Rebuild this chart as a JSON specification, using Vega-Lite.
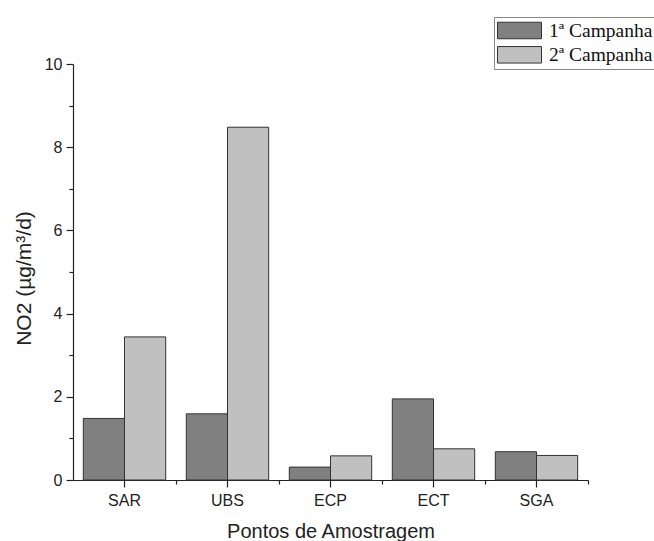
{
  "$schema": "https://vega.github.io/schema/vega-lite/v6.json",
  "autosize": "none",
  "width": 515,
  "height": 416,
  "padding": {"left": 73, "top": 64, "right": 66, "bottom": 61},
  "background": "white",
  "config": {
    "view": {"stroke": null},
    "font": "Liberation Sans",
    "axis": {
      "domainColor": "#222",
      "tickColor": "#222",
      "labelColor": "#222",
      "titleColor": "#222",
      "labelFont": "Liberation Sans",
      "titleFont": "Liberation Sans",
      "labelFontSize": 16,
      "titleFontSize": 20,
      "titleFontWeight": "normal",
      "grid": false,
      "tickWidth": 1.2,
      "domainWidth": 1.2
    }
  },
  "data": {
    "values": [
      {"Site": "SAR", "Campanha": "1ª Campanha", "NO2": 1.48},
      {"Site": "SAR", "Campanha": "2ª Campanha", "NO2": 3.44},
      {"Site": "UBS", "Campanha": "1ª Campanha", "NO2": 1.59},
      {"Site": "UBS", "Campanha": "2ª Campanha", "NO2": 8.48},
      {"Site": "ECP", "Campanha": "1ª Campanha", "NO2": 0.31},
      {"Site": "ECP", "Campanha": "2ª Campanha", "NO2": 0.58},
      {"Site": "ECT", "Campanha": "1ª Campanha", "NO2": 1.95},
      {"Site": "ECT", "Campanha": "2ª Campanha", "NO2": 0.75},
      {"Site": "SGA", "Campanha": "1ª Campanha", "NO2": 0.68},
      {"Site": "SGA", "Campanha": "2ª Campanha", "NO2": 0.59}
    ]
  },
  "layer": [
    {
      "mark": {"type": "bar", "stroke": "#333", "strokeWidth": 1},
      "encoding": {
        "x": {
          "field": "Site",
          "type": "nominal",
          "sort": ["SAR", "UBS", "ECP", "ECT", "SGA"],
          "scale": {"paddingInner": 0.2, "paddingOuter": 0.1},
          "axis": {
            "orient": "bottom",
            "title": "Pontos de Amostragem",
            "labelAngle": 0,
            "tickSize": 7,
            "labelPadding": 5,
            "titleBaseline": "alphabetic",
            "titleY": 57
          }
        },
        "xOffset": {
          "field": "Campanha",
          "type": "nominal",
          "scale": {"paddingInner": 0, "paddingOuter": 0}
        },
        "y": {
          "field": "NO2",
          "type": "quantitative",
          "scale": {"domain": [0, 10], "nice": false},
          "axis": {
            "title": "NO2 (µg/m³/d)",
            "titleFontSize": 21,
            "values": [0, 1, 2, 3, 4, 5, 6, 7, 8, 9, 10],
            "labelExpr": "datum.value % 2 === 0 ? datum.label : ''",
            "tickSize": {"condition": {"test": "datum.value % 2 === 0", "value": 7}, "value": 4},
            "labelPadding": 4,
            "titleAngle": 270,
            "titleAlign": "center",
            "titleBaseline": "middle",
            "titleX": -49,
            "titleY": 214
          }
        },
        "color": {
          "field": "Campanha",
          "type": "nominal",
          "scale": {"domain": ["1ª Campanha", "2ª Campanha"], "range": ["#808080", "#c0c0c0"]},
          "legend": {
            "title": null,
            "orient": "none",
            "legendX": 421,
            "legendY": -47,
            "padding": 3,
            "strokeColor": "#888",
            "fillColor": "white",
            "symbolType": "M-1,-0.825H3.4V0.825H-1Z",
            "symbolSize": 400,
            "symbolStrokeColor": "#333",
            "symbolStrokeWidth": 1,
            "symbolOpacity": 1,
            "labelFont": "Liberation Serif",
            "labelFontSize": 19.5,
            "labelColor": "#111",
            "labelOffset": 31,
            "rowPadding": 3.3,
            "labelLimit": 300
          }
        }
      }
    },
    {
      "mark": {"type": "point", "opacity": 0},
      "encoding": {
        "x": {
          "field": "Site",
          "type": "nominal",
          "sort": ["SAR", "UBS", "ECP", "ECT", "SGA"],
          "axis": {
            "orient": "bottom",
            "title": null,
            "labels": false,
            "domain": false,
            "tickSize": 4,
            "bandPosition": 1.125
          }
        },
        "y": {"datum": 0, "type": "quantitative"}
      }
    }
  ],
  "resolve": {"axis": {"x": "independent"}}
}
